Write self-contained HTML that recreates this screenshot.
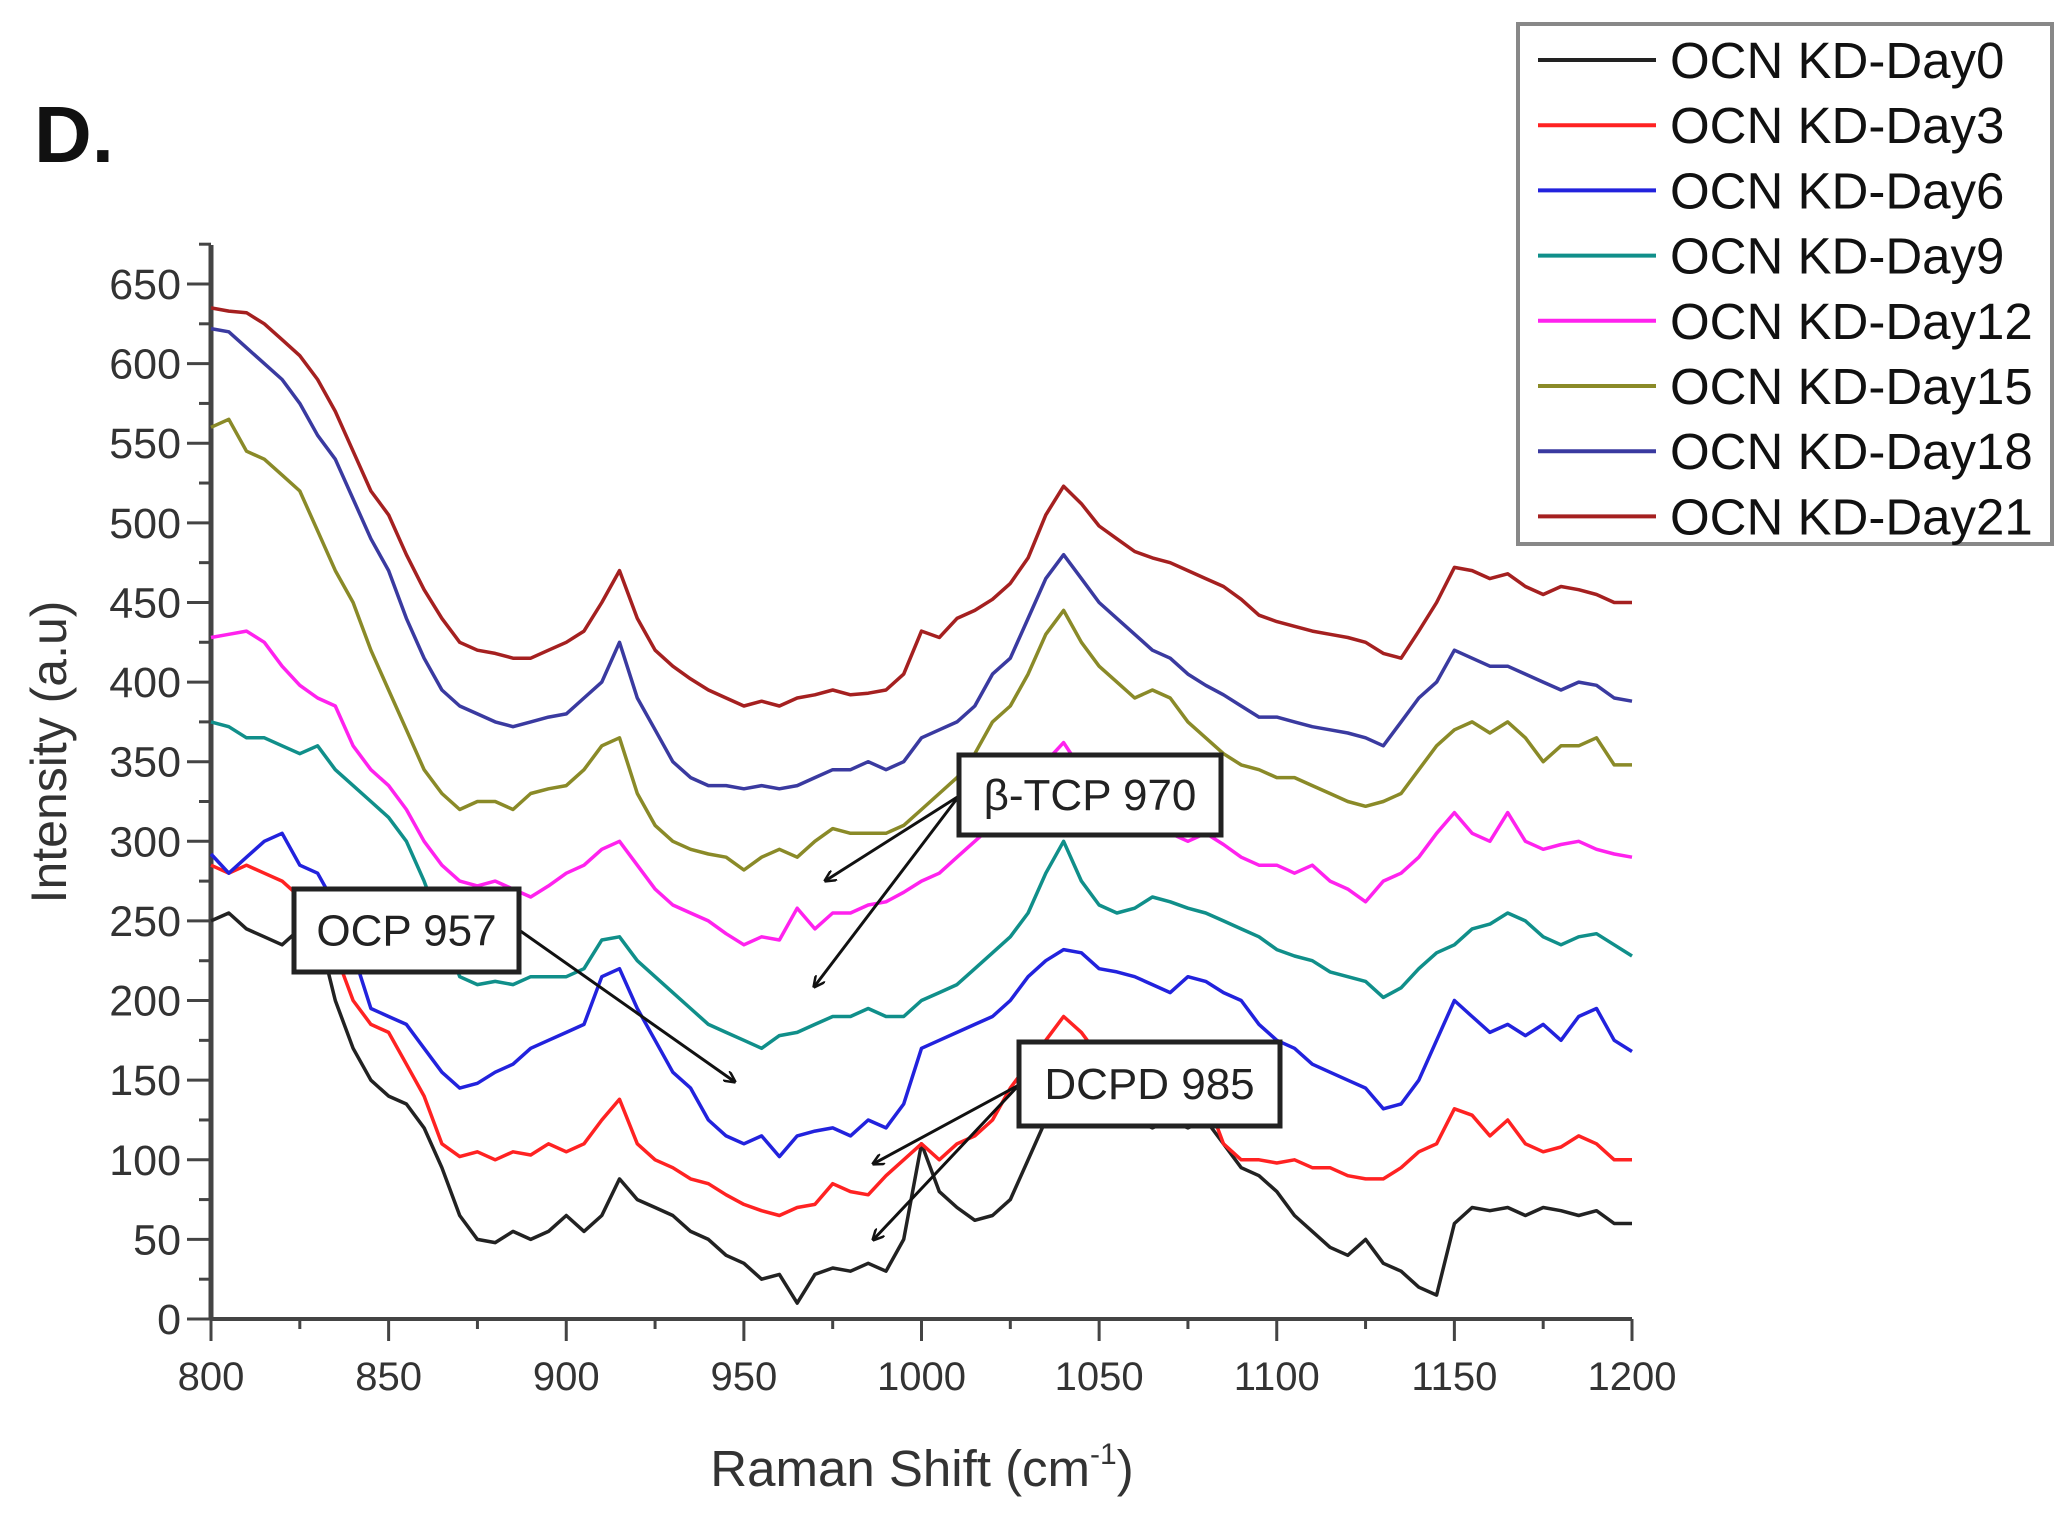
<!DOCTYPE html>
<html><head><meta charset="utf-8"><style>
html,body{margin:0;padding:0;background:#fff;}
svg{display:block;font-family:"Liberation Sans",sans-serif;}
</style></head><body>
<svg id="chart" width="2069" height="1523" viewBox="0 0 2069 1523">
<text x="34" y="162" font-size="80" font-weight="bold" fill="#111">D.</text>
<g id="axes"></g>
<g id="series"></g>
<g id="annot"></g>
<g id="legend"></g>
</svg>
<script>
const xs=[];for(let v=800;v<=1200;v+=5)xs.push(v);
const seriesNames=["OCN KD-Day0","OCN KD-Day3","OCN KD-Day6","OCN KD-Day9","OCN KD-Day12","OCN KD-Day15","OCN KD-Day18","OCN KD-Day21"];
const seriesColors=["#222","#f22","#2222dd","#108f8a","#ff22ee","#8a8a28","#3a3aa0","#a52020"];
const day0=[250,255,245,240,235,245,245,200,170,150,140,135,120,95,65,50,48,55,50,55,65,55,65,88,75,70,65,55,50,40,35,25,28,10,28,32,30,35,30,50,110,80,70,62,65,75,100,125,135,130,128,125,125,120,125,120,125,110,95,90,80,65,55,45,40,50,35,30,20,15,60,70,68,70,65,70,68,65,68,60,60];
const day3=[285,280,285,280,275,265,255,230,200,185,180,160,140,110,102,105,100,105,103,110,105,110,125,138,110,100,95,88,85,78,72,68,65,70,72,85,80,78,90,100,110,100,110,115,125,145,160,175,190,180,165,160,155,152,150,148,140,110,100,100,98,100,95,95,90,88,88,95,105,110,132,128,115,125,110,105,108,115,110,100,100];
const day6=[292,280,290,300,305,285,280,260,230,195,190,185,170,155,145,148,155,160,170,175,180,185,215,220,195,175,155,145,125,115,110,115,102,115,118,120,115,125,120,135,170,175,180,185,190,200,215,225,232,230,220,218,215,210,205,215,212,205,200,185,175,170,160,155,150,145,132,135,150,175,200,190,180,185,178,185,175,190,195,175,168];
const day9=[375,372,365,365,360,355,360,345,335,325,315,300,275,245,215,210,212,210,215,215,215,220,238,240,225,215,205,195,185,180,175,170,178,180,185,190,190,195,190,190,200,205,210,220,230,240,255,280,300,275,260,255,258,265,262,258,255,250,245,240,232,228,225,218,215,212,202,208,220,230,235,245,248,255,250,240,235,240,242,235,228];
const day12=[428,430,432,425,410,398,390,385,360,345,335,320,300,285,275,272,275,270,265,272,280,285,295,300,285,270,260,255,250,242,235,240,238,258,245,255,255,260,262,268,275,280,290,300,310,325,335,350,362,345,330,325,315,310,305,300,305,298,290,285,285,280,285,275,270,262,275,280,290,305,318,305,300,318,300,295,298,300,295,292,290];
const day15=[560,565,545,540,530,520,495,470,450,420,395,370,345,330,320,325,325,320,330,333,335,345,360,365,330,310,300,295,292,290,282,290,295,290,300,308,305,305,305,310,320,330,340,355,375,385,405,430,445,425,410,400,390,395,390,375,365,355,348,345,340,340,335,330,325,322,325,330,345,360,370,375,368,375,365,350,360,360,365,348,348];
const day18=[622,620,610,600,590,575,555,540,515,490,470,440,415,395,385,380,375,372,375,378,380,390,400,425,390,370,350,340,335,335,333,335,333,335,340,345,345,350,345,350,365,370,375,385,405,415,440,465,480,465,450,440,430,420,415,405,398,392,385,378,378,375,372,370,368,365,360,375,390,400,420,415,410,410,405,400,395,400,398,390,388];
const day21=[635,633,632,625,615,605,590,570,545,520,505,480,458,440,425,420,418,415,415,420,425,432,450,470,440,420,410,402,395,390,385,388,385,390,392,395,392,393,395,405,432,428,440,445,452,462,478,505,523,512,498,490,482,478,475,470,465,460,452,442,438,435,432,430,428,425,418,415,432,450,472,470,465,468,460,455,460,458,455,450,450];
const allSeries=[day0,day3,day6,day9,day12,day15,day18,day21];
const yTicks=[0,50,100,150,200,250,300,350,400,450,500,550,600,650];
const xTicks=[800,850,900,950,1000,1050,1100,1150,1200];

const NS="http://www.w3.org/2000/svg";
const X0=211,X1=1632,Y0=1319,Y650=284;
const sx=v=>X0+(v-800)*(X1-X0)/400;
const sy=v=>Y0-v*(Y0-Y650)/650;
function mk(tag,attrs,parent){const e=document.createElementNS(NS,tag);for(const k in attrs)e.setAttribute(k,attrs[k]);parent.appendChild(e);return e;}
const axes=document.getElementById('axes');
let e;
e=mk('line',{x1:X0,y1:Y0,x2:X0,y2:245,stroke:'#444','stroke-width':5},axes);


e=mk('line',{x1:X0,y1:Y0,x2:X1,y2:Y0,stroke:'#444','stroke-width':4},axes);


for(let v=0;v<=675;v+=25){const maj=v%50===0;e=mk('line',{x1:X0-(maj?24:12),y1:sy(v),x2:X0,y2:sy(v),stroke:'#444','stroke-width':3},axes);

}
yTicks.forEach(v=>{e=mk('text',{x:X0-30,y:sy(v)+15,'text-anchor':'end','font-size':43,fill:'#333'},axes);e.textContent=v;

});
for(let v=800;v<=1200;v+=25){const maj=v%50===0;e=mk('line',{x1:sx(v),y1:Y0,x2:sx(v),y2:Y0+(maj?22:10),stroke:'#444','stroke-width':3},axes);

}
xTicks.forEach(v=>{e=mk('text',{x:sx(v),y:1390,'text-anchor':'middle','font-size':40,fill:'#333'},axes);e.textContent=v;

});
e=mk('text',{x:922,y:1486,'text-anchor':'middle','font-size':51,fill:'#333'},axes);
e.innerHTML='Raman Shift (cm<tspan font-size="30" dy="-22">-1</tspan><tspan dy="22">)</tspan>';


e=mk('text',{x:0,y:0,'text-anchor':'middle','font-size':50,fill:'#333',transform:'translate(66,752) rotate(-90)'},axes);e.textContent='Intensity (a.u)';



const sg=document.getElementById('series');
allSeries.forEach((arr,i)=>{const d=arr.map((v,j)=>(j?'L':'M')+sx(xs[j]).toFixed(1)+' '+sy(v).toFixed(1)).join(' ');
e=mk('path',{d:d,fill:'none',stroke:seriesColors[i],'stroke-width':3.5,'stroke-linejoin':'round'},sg);

});

const an=document.getElementById('annot');
const defs=mk('defs',{},an);
const mrk=mk('marker',{id:'ah',markerWidth:12,markerHeight:12,refX:11,refY:6,orient:'auto',markerUnits:'userSpaceOnUse'},defs);
mk('path',{d:'M0 0 L12 6 L0 12',fill:'none',stroke:'#111','stroke-width':2.5},mrk);
function arrow(x1,y1,x2,y2){e=mk('line',{x1,y1,x2,y2,stroke:'#111','stroke-width':3,'marker-end':'url(#ah)'},an);

}
function box(x,y,w,h,label,name){e=mk('rect',{x,y,width:w,height:h,fill:'#fff',stroke:'#222','stroke-width':5},an);


e=mk('text',{x:x+w/2,y:y+h/2+15,'text-anchor':'middle','font-size':44,fill:'#222'},an);e.textContent=label;

}
arrow(959,796,825,881);arrow(959,796,814,987);
arrow(519,930,735,1082);
arrow(1019,1085,873,1164);arrow(1019,1085,873,1240);
box(959,755,262,80,'β-TCP 970','btcp-970');
box(294,889,225,83,'OCP 957','ocp-957');
box(1019,1042,261,84,'DCPD 985','dcpd-985');

const lg=document.getElementById('legend');
e=mk('rect',{x:1518,y:24,width:534,height:520,fill:'#fff',stroke:'#888','stroke-width':4},lg);


seriesNames.forEach((n,i)=>{const y=60+i*65.2;
e=mk('line',{x1:1538,y1:y,x2:1656,y2:y,stroke:seriesColors[i],'stroke-width':4},lg);


e=mk('text',{x:1670,y:y+18,'font-size':51,fill:'#111'},lg);e.textContent=n;

});
</script>
</body></html>
